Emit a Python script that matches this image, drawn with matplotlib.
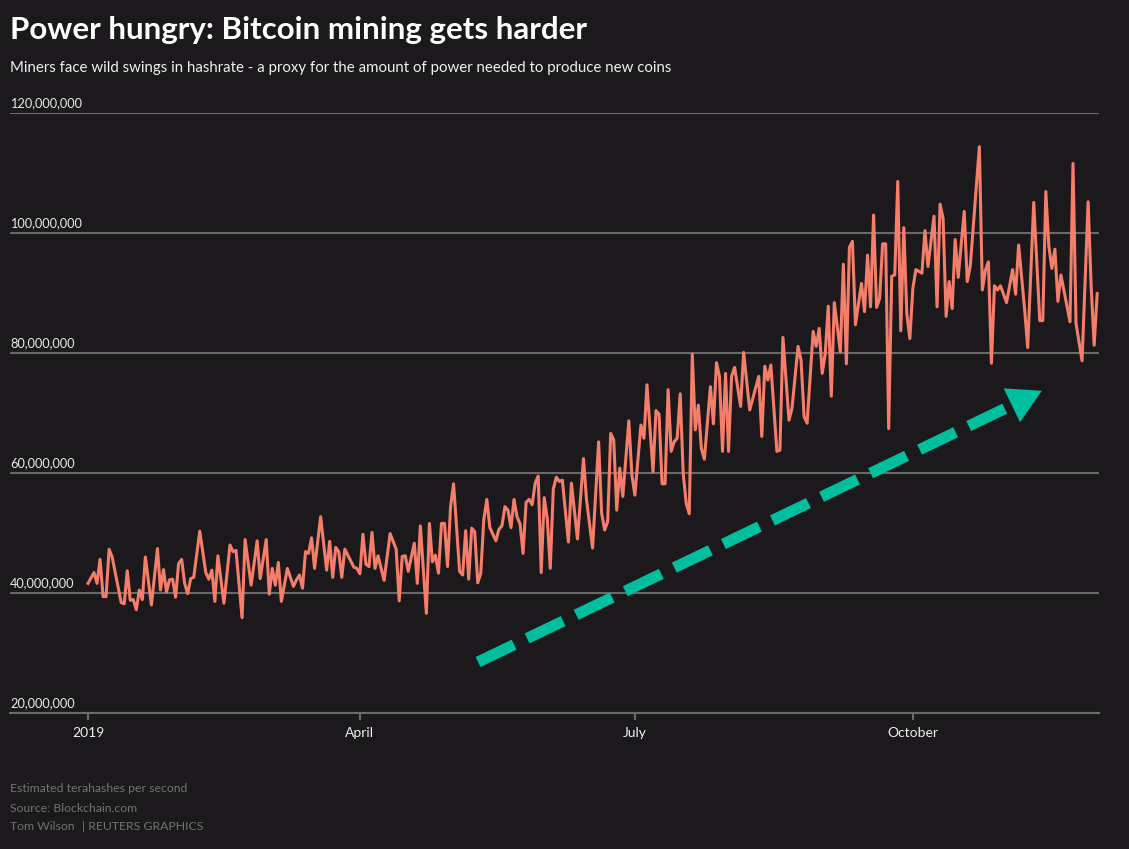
import pandas as pd
import matplotlib.pyplot as plt
import matplotlib.dates as mdates

# day offsets from 1 Jan 2019 and hashrate (millions of TH/s)
days = [0, 2, 3, 4, 5, 6, 7, 8, 11, 12, 13, 14, 15, 16, 17, 18, 19, 21, 23, 24,
        25, 26, 27, 28, 29, 30, 31, 32, 33, 34, 35, 37, 39, 40, 41, 42, 43, 45, 47, 48,
        49, 51, 52, 54, 56, 57, 59, 60, 61, 62, 63, 64, 66, 68, 69, 70, 71, 72, 73, 74,
        75, 77, 79, 80, 81, 82, 83, 84, 85, 86, 88, 89, 90, 91, 92, 93, 94, 95, 96, 98,
        100, 102, 103, 104, 105, 106, 108, 109, 110, 112, 113, 114, 115, 116, 117, 118, 119, 120, 121, 122,
        123, 124, 125, 126, 127, 128, 129, 130, 131, 132, 133, 135, 136, 137, 138, 139, 140, 141, 142, 143,
        144, 145, 146, 147, 148, 149, 150, 151, 152, 153, 154, 155, 156, 157, 159, 160, 162, 164, 165, 167,
        169, 170, 171, 172, 173, 174, 175, 176, 177, 179, 180, 181, 183, 184, 185, 187, 188, 189, 190, 191,
        192, 193, 194, 195, 196, 197, 198, 199, 200, 201, 202, 203, 204, 206, 207, 208, 209, 210, 211, 212,
        213, 214, 216, 217, 219, 222, 223, 224, 225, 226, 228, 229, 230, 232, 233, 235, 236, 237, 238, 240,
        241, 242, 243, 244, 245, 246, 247, 249, 250, 251, 252, 253, 254, 256, 257, 258, 259, 260, 261, 262,
        263, 264, 265, 266, 267, 268, 269, 270, 271, 272, 273, 274, 276, 277, 278, 280, 281, 282, 283, 284,
        285, 286, 287, 288, 290, 291, 292, 295, 296, 297, 298, 299, 300, 301, 302, 304, 306, 307, 308, 310,
        311, 313, 315, 316, 317, 318, 319, 320, 321, 322, 323, 325, 326, 327, 329, 331, 332, 333, 334]
hashrate = [41.6, 43.4, 41.6, 45.6, 39.4, 39.4, 47.3, 46.0, 38.4, 38.2, 43.7, 38.8, 38.9, 37.2, 40.5, 38.9, 46.0, 38.0, 47.4, 40.5,
            43.9, 40.2, 42.2, 42.3, 39.3, 44.9, 45.6, 41.6, 39.9, 42.4, 42.6, 50.3, 43.4, 42.3, 43.8, 38.6, 46.2, 38.3, 48.0, 46.9,
            47.1, 35.9, 48.9, 41.3, 48.7, 42.4, 48.9, 39.8, 44.1, 41.3, 45.1, 38.6, 44.1, 41.1, 42.2, 43.0, 40.8, 46.9, 46.6, 49.2,
            44.1, 52.7, 43.8, 48.6, 42.6, 47.6, 46.9, 42.6, 47.3, 46.3, 44.3, 44.1, 43.2, 49.8, 44.8, 44.4, 50.1, 44.1, 46.2, 42.1,
            49.9, 47.3, 38.7, 46.1, 46.2, 43.6, 48.3, 41.6, 51.2, 36.6, 51.6, 45.2, 46.3, 43.3, 51.6, 51.6, 44.4, 54.4, 58.2, 50.8,
            43.6, 43.0, 50.4, 42.3, 50.8, 50.2, 41.7, 43.3, 52.2, 55.6, 50.9, 48.7, 50.6, 51.2, 54.4, 53.8, 50.9, 55.6, 52.7, 51.5,
            46.6, 55.1, 55.6, 54.7, 58.3, 59.5, 43.4, 55.9, 52.4, 44.1, 57.3, 59.3, 58.6, 58.8, 48.5, 58.3, 49.0, 62.4, 55.5, 47.5,
            65.2, 53.3, 50.5, 51.9, 66.6, 65.5, 53.8, 60.8, 56.1, 68.7, 59.7, 56.3, 68.0, 65.8, 74.7, 60.2, 70.4, 69.8, 58.2, 58.2,
            73.9, 63.6, 65.2, 65.8, 73.2, 59.9, 54.9, 53.2, 79.8, 67.2, 71.3, 64.1, 62.3, 74.4, 68.2, 78.4, 76.1, 63.6, 76.6, 63.6,
            76.1, 77.6, 71.1, 80.1, 70.5, 76.1, 66.1, 77.8, 75.5, 78.0, 63.6, 63.8, 82.6, 68.8, 70.8, 81.1, 78.8, 69.4, 68.3, 83.6,
            81.1, 84.1, 76.6, 79.9, 87.8, 72.8, 88.4, 80.2, 94.8, 78.2, 97.6, 98.6, 84.7, 91.6, 86.9, 96.3, 87.7, 103.0, 87.6, 89.1,
            98.2, 98.2, 67.4, 92.8, 93.0, 108.6, 83.7, 100.9, 86.5, 82.4, 90.8, 93.9, 93.3, 100.4, 94.4, 102.8, 87.7, 104.8, 102.4, 86.1,
            91.9, 87.4, 98.9, 92.6, 103.6, 91.9, 94.5, 114.4, 90.5, 93.8, 95.2, 78.3, 91.2, 90.5, 91.2, 88.4, 93.9, 89.8, 98.0, 87.2,
            80.9, 105.1, 85.4, 85.4, 106.9, 97.8, 94.1, 97.3, 88.6, 93.0, 90.4, 85.2, 111.6, 84.9, 78.7, 105.2, 91.1, 81.3, 89.9]

y_ticks = [20, 40, 60, 80, 100, 120]
y_tick_labels = ["20,000,000", "40,000,000", "60,000,000", "80,000,000", "100,000,000", "120,000,000"]
x_tick_dates = ["2019-01-01", "2019-04-01", "2019-07-01", "2019-10-01"]
x_tick_labels = ["2019", "April", "July", "October"]

BG = "#1b191c"
GRID = "#6a6a6a"
LINE = "#f47e6a"
ARROW = "#00bf9f"
FOOT = "#737373"

start = pd.Timestamp("2019-01-01")
dates = start + pd.to_timedelta(days, unit="D")

plt.rcParams["font.family"] = ["Lato", "DejaVu Sans"]

fig = plt.figure(figsize=(11.29, 8.49), dpi=100, facecolor=BG)
ax = fig.add_axes([10 / 1129, 1 - 713 / 849, 1089 / 1129, 600 / 849])
ax.set_facecolor(BG)

ax.plot(dates, hashrate, color=LINE, lw=2.2, solid_joinstyle="round", zorder=3)

ax.set_ylim(20, 120)
ax.set_xlim(start - pd.Timedelta(days=25.8), start + pd.Timedelta(days=334.6))

# horizontal grid, labels sit on top of the lines at the left
ax.set_yticks(y_ticks)
ax.set_yticklabels([])
ax.tick_params(axis="y", length=0)
ax.grid(axis="y", color=GRID, lw=1.5)
ax.set_axisbelow(True)
for v, lab in zip(y_ticks, y_tick_labels):
    ax.annotate(lab, xy=(0, v), xycoords=ax.get_yaxis_transform(), xytext=(0, 3),
                textcoords="offset points", ha="left", va="bottom", color="#e8e8e8", fontsize=9.2)

for s in ["left", "right", "top"]:
    ax.spines[s].set_visible(False)
ax.spines["bottom"].set_color(GRID)
ax.spines["bottom"].set_linewidth(1.5)

ax.set_xticks(pd.to_datetime(x_tick_dates))
ax.set_xticklabels(x_tick_labels)
ax.tick_params(axis="x", colors=GRID, length=5, width=1.5, pad=5, labelcolor="#f0f0f0", labelsize=10)

# green trend arrow (dashed shaft, solid head)
t0 = mdates.date2num(start)
x0, y0 = t0 + 129.1, 28.5
x1, y1 = t0 + 315.7, 73.7
frac = 0.95
ax.plot([x0, x0 + (x1 - x0) * frac], [y0, y0 + (y1 - y0) * frac], color=ARROW, lw=8,
        dashes=(3.6, 1.3), dash_capstyle="butt", solid_capstyle="round", zorder=4)
ax.annotate("", xy=(x1, y1), xytext=(x0 + (x1 - x0) * 0.85, y0 + (y1 - y0) * 0.85),
            arrowprops=dict(arrowstyle="-|>,head_length=2.4,head_width=1.35", color=ARROW, lw=0,
                            shrinkA=0, shrinkB=0), zorder=5)

fig.text(10 / 1129, 1 - 30 / 849, "Power hungry: Bitcoin mining gets harder", color="white",
         fontsize=22.5, fontweight="bold", ha="left", va="center")
fig.text(10 / 1129, 1 - 68 / 849,
         "Miners face wild swings in hashrate - a proxy for the amount of power needed to produce new coins",
         color="#f0f0f0", fontsize=10.8, ha="left", va="center")

fig.text(10 / 1129, 1 - 789 / 849, "Estimated terahashes per second", color=FOOT, fontsize=8.8, ha="left", va="center")
fig.text(10 / 1129, 1 - 808 / 849, "Source: Blockchain.com", color=FOOT, fontsize=8.8, ha="left", va="center")
fig.text(10 / 1129, 1 - 827 / 849, "Tom Wilson", color=FOOT, fontsize=8.8, ha="left", va="center")
fig.text(82 / 1129, 1 - 827 / 849, "| REUTERS GRAPHICS", color=FOOT, fontsize=8.8, ha="left", va="center")

fig.savefig("out.png", dpi=100, facecolor=BG)
